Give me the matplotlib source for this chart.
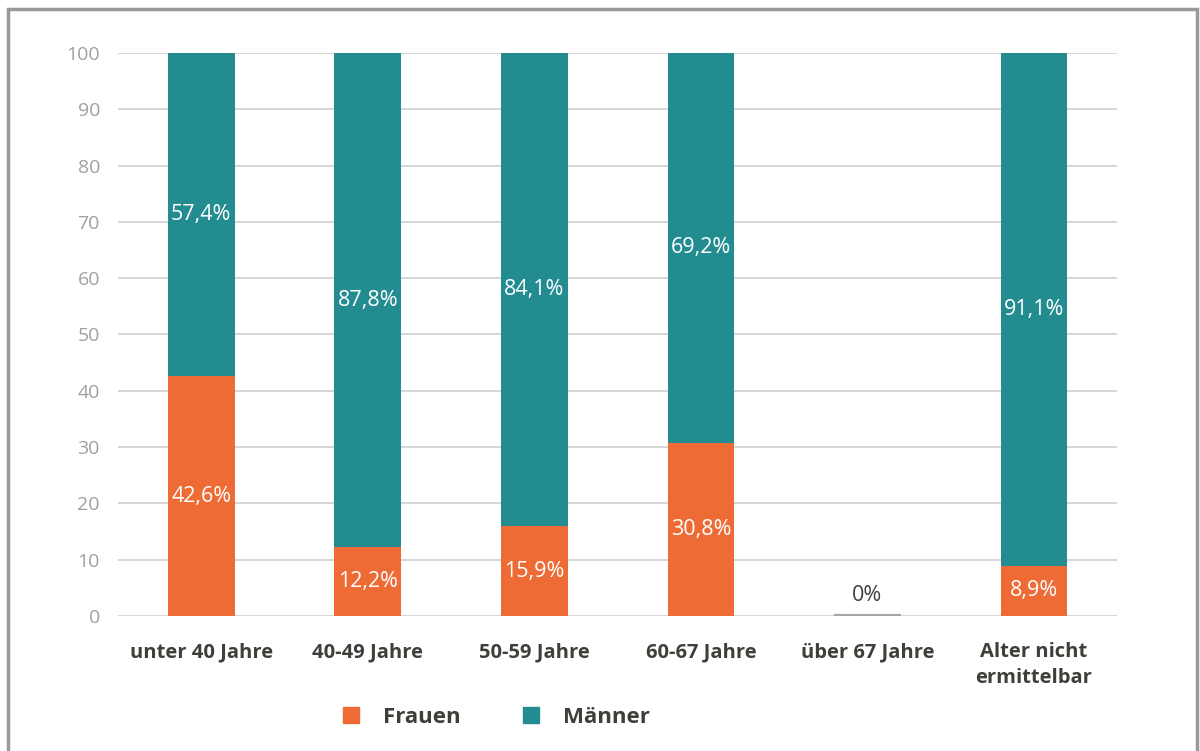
import numpy as np
import matplotlib.pyplot as plt
from matplotlib.patches import Patch, Rectangle

# Daten
kategorien = ["unter 40 Jahre", "40-49 Jahre", "50-59 Jahre", "60-67 Jahre",
              "über 67 Jahre", "Alter nicht\nermittelbar"]
frauen = [42.6, 12.2, 15.9, 30.8, 0.0, 8.9]
maenner = [57.4, 87.8, 84.1, 69.2, 0.0, 91.1]
yticks = list(range(0, 101, 10))

c_frauen = "#EE6B35"
c_maenner = "#238C91"
c_text = "#3f3f3a"

plt.rcParams['font.family'] = ['Open Sans', 'DejaVu Sans']

fig = plt.figure(figsize=(12, 7.51), dpi=100)
ax = fig.add_axes([0.0983, 0.1798, 0.8327, 0.7496])

x = np.arange(len(kategorien))
w = 0.4
ax.bar(x, frauen, w, color=c_frauen, zorder=3)
ax.bar(x, maenner, w, bottom=frauen, color=c_maenner, zorder=3)

lab = lambda v: ("%.1f%%" % v).replace(".", ",")
for i in range(len(x)):
    f, m = frauen[i], maenner[i]
    if f + m == 0:
        ax.hlines(0, x[i] - w / 2, x[i] + w / 2, color="#a6a6a6", lw=3, zorder=4)
        ax.text(x[i], 3.7, "0%", ha="center", va="center", color="#404040", fontsize=15.5)
        continue
    ax.text(x[i], f / 2, lab(f), ha="center", va="center", color="white", fontsize=15.5, zorder=5)
    ax.text(x[i], f + m / 2, lab(m), ha="center", va="center", color="white", fontsize=15.5, zorder=5)

ax.set_xlim(-0.5, len(x) - 0.5)
ax.set_ylim(0, 100)
ax.set_yticks(yticks)
ax.set_xticks(x)
ax.set_xticklabels(kategorien, fontsize=14.5, fontweight="bold", color=c_text, linespacing=1.4)
ax.tick_params(axis="y", length=0, labelsize=14, labelcolor="#a0a0a0", pad=13)
ax.tick_params(axis="x", length=0, pad=19)
for lbl in ax.get_xticklabels():
    lbl.set_verticalalignment("top")
ax.grid(axis="y", color="#d0d0d0", lw=1.2, zorder=0)
for s in ax.spines.values():
    s.set_visible(False)

handles = [Patch(color=c_frauen, label="Frauen"), Patch(color=c_maenner, label="Männer")]
leg = fig.legend(handles=handles, loc="center", bbox_to_anchor=(0.414, 0.045), ncol=2,
                 frameon=False, handlelength=0.7, handleheight=0.7, handletextpad=1.1,
                 columnspacing=2.8, prop={"size": 16, "weight": "bold"})
for t in leg.get_texts():
    t.set_color(c_text)

fig.patches.append(Rectangle((8 / 1200, -0.05), 1189 / 1200, 1.05 - 9 / 751,
                             transform=fig.transFigure, fill=False,
                             edgecolor="#999999", lw=2.5))

fig.savefig("out.png", dpi=100)
